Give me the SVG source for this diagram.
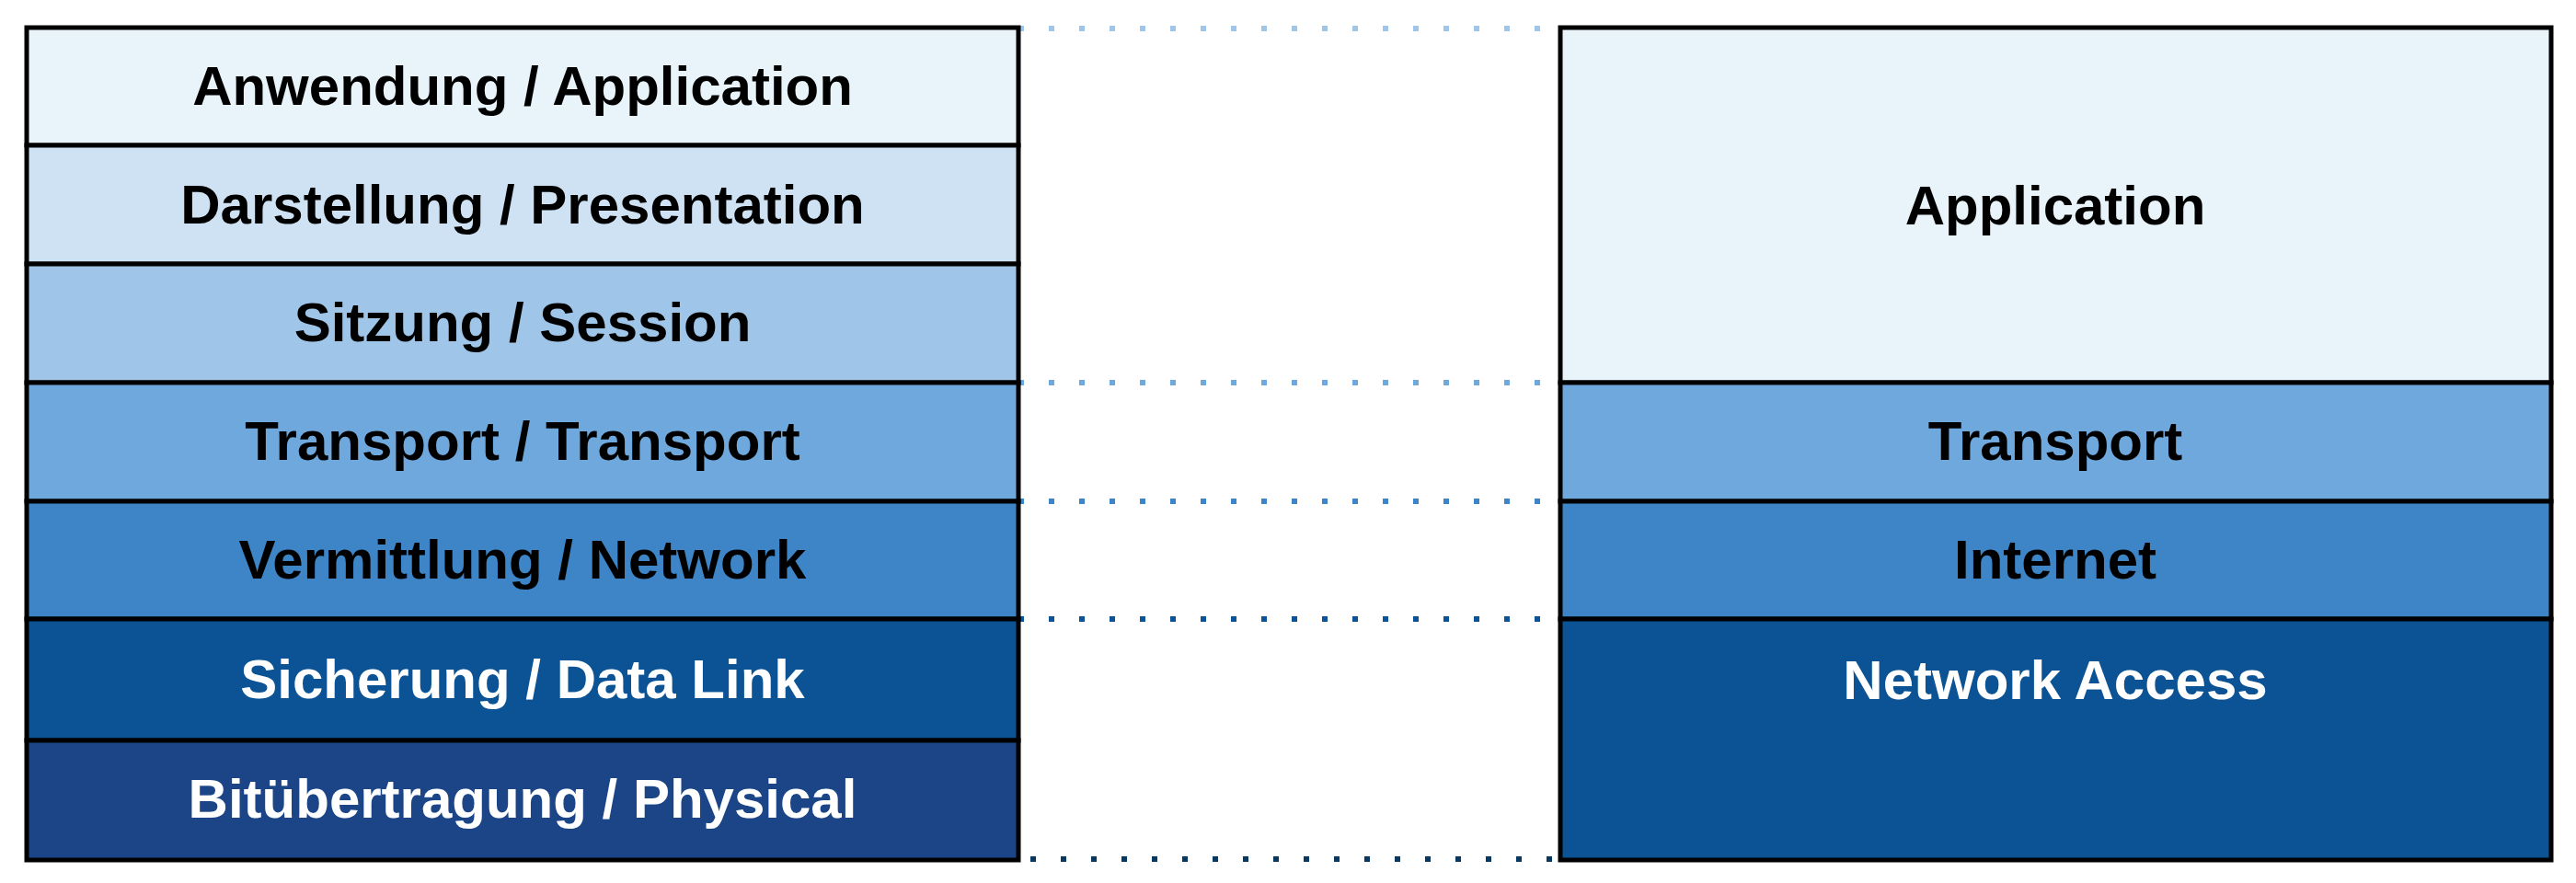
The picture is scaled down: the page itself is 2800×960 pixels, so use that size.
<svg xmlns="http://www.w3.org/2000/svg" width="2800" height="960" viewBox="0 0 2800 960">
  <style>
    .box { stroke: #000000; stroke-width: 5; }
    .lbl { font-family: "Liberation Sans", Arial, sans-serif; font-weight: bold; font-size: 60px; text-anchor: middle; }
    .dark { fill: #000000; }
    .light { fill: #ffffff; }
    .dot { fill: none; stroke-width: 6; stroke-dasharray: 6 27; }
  </style>
  <rect width="2800" height="960" fill="#ffffff"/>
  <g id="connectors">
    <line class="dot" x1="1107" y1="31" x2="1696" y2="31" stroke="#9fc5e8"/>
    <line class="dot" x1="1107" y1="416" x2="1696" y2="416" stroke="#6fa8dc"/>
    <line class="dot" x1="1107" y1="545" x2="1696" y2="545" stroke="#3d85c6"/>
    <line class="dot" x1="1107" y1="673" x2="1696" y2="673" stroke="#0b5394"/>
    <line class="dot" x1="1120" y1="934" x2="1696" y2="934" stroke="#073763"/>
  </g>
  <g id="osi-application">
    <rect class="box" x="29" y="30" width="1078" height="128" fill="#e8f3fa"/>
    <text class="lbl dark" x="568" y="114">Anwendung / Application</text>
  </g>
  <g id="osi-presentation">
    <rect class="box" x="29" y="158" width="1078" height="129" fill="#cfe2f3"/>
    <text class="lbl dark" x="568" y="243">Darstellung / Presentation</text>
  </g>
  <g id="osi-session">
    <rect class="box" x="29" y="287" width="1078" height="129" fill="#9fc5e8"/>
    <text class="lbl dark" x="568" y="371">Sitzung / Session</text>
  </g>
  <g id="osi-transport">
    <rect class="box" x="29" y="416" width="1078" height="129" fill="#6fa8dc"/>
    <text class="lbl dark" x="568" y="500">Transport / Transport</text>
  </g>
  <g id="osi-network">
    <rect class="box" x="29" y="545" width="1078" height="128" fill="#3d85c6"/>
    <text class="lbl dark" x="568" y="629">Vermittlung / Network</text>
  </g>
  <g id="osi-datalink">
    <rect class="box" x="29" y="673" width="1078" height="132" fill="#0b5394"/>
    <text class="lbl light" x="568" y="759">Sicherung / Data Link</text>
  </g>
  <g id="osi-physical">
    <rect class="box" x="29" y="805" width="1078" height="130" fill="#1c4587"/>
    <text class="lbl light" x="568" y="889">Bitübertragung / Physical</text>
  </g>
  <g id="tcp-application">
    <rect class="box" x="1696" y="30" width="1077" height="386" fill="#e8f3fa"/>
    <text class="lbl dark" x="2234" y="244">Application</text>
  </g>
  <g id="tcp-transport">
    <rect class="box" x="1696" y="416" width="1077" height="129" fill="#6fa8dc"/>
    <text class="lbl dark" x="2234" y="500">Transport</text>
  </g>
  <g id="tcp-internet">
    <rect class="box" x="1696" y="545" width="1077" height="128" fill="#3d85c6"/>
    <text class="lbl dark" x="2234" y="629">Internet</text>
  </g>
  <g id="tcp-network-access">
    <rect class="box" x="1696" y="673" width="1077" height="262" fill="#0b5394"/>
    <text class="lbl light" x="2234" y="760">Network Access</text>
  </g>
</svg>
